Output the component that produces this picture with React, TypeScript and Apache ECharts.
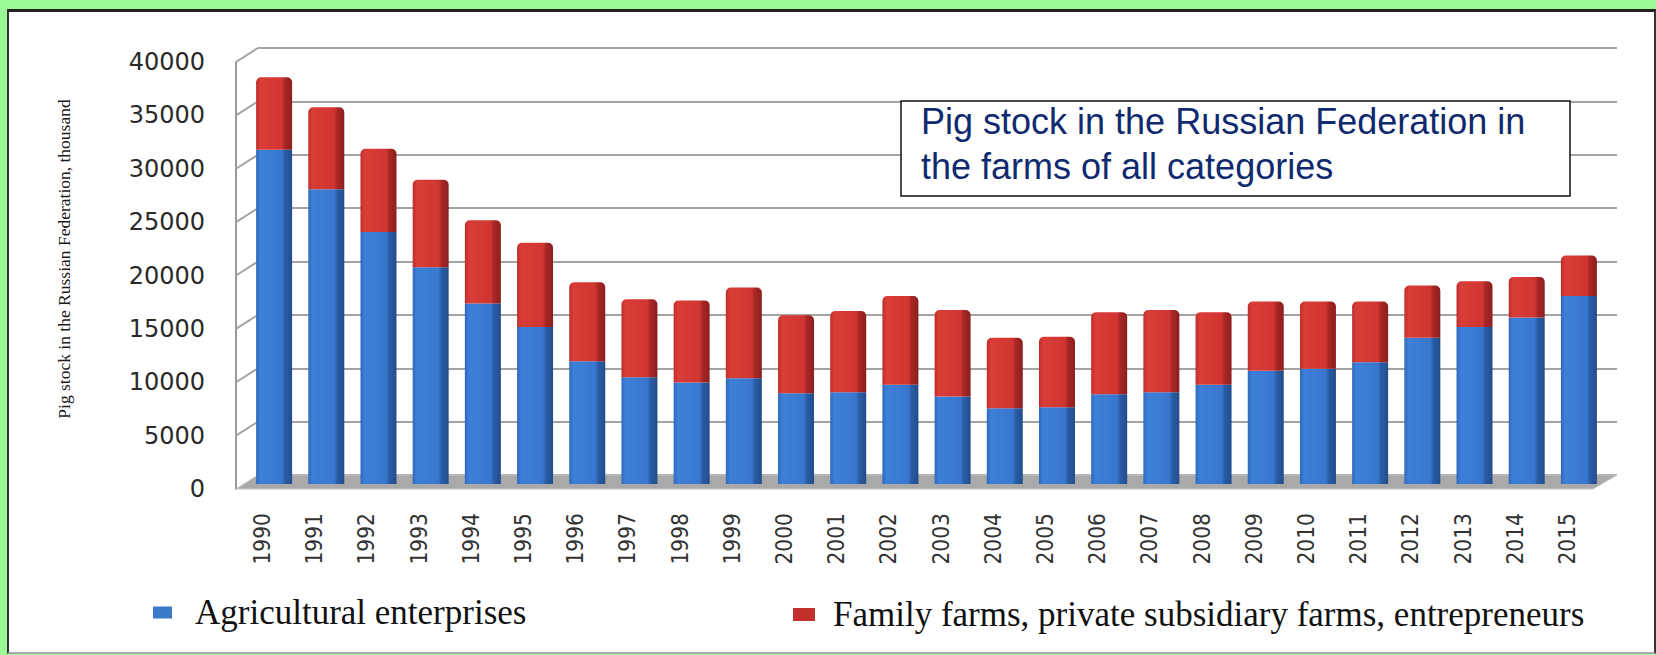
import React, { useEffect, useRef } from "react";
import * as echarts from "echarts";

// ---- data (thousand head) ----
const years = [
  "1990", "1991", "1992", "1993", "1994", "1995", "1996", "1997", "1998", "1999",
  "2000", "2001", "2002", "2003", "2004", "2005", "2006", "2007", "2008", "2009",
  "2010", "2011", "2012", "2013", "2014", "2015",
];
const agricultural = [
  31300, 27600, 23600, 20300, 16900, 14700, 11500, 10000, 9500, 9900,
  8500, 8600, 9300, 8200, 7100, 7200, 8400, 8600, 9300, 10600,
  10800, 11400, 13700, 14700, 15600, 17600,
];
const family = [
  6800, 7700, 7800, 8200, 7800, 7900, 7400, 7300, 7700, 8500,
  7300, 7600, 8300, 8100, 6600, 6600, 7700, 7700, 6800, 6500,
  6300, 5700, 4900, 4300, 3800, 3800,
];
const seriesNames = [
  "Agricultural enterprises",
  "Family farms, private subsidiary farms, entrepreneurs",
];
const yAxisTitle = "Pig stock in the Russian Federation, thousand";
const titleLines = ["Pig stock in the Russian Federation in", "the farms of all categories"];
const yMax = 40000;
const yStep = 5000;

export default function App() {
  const ref = useRef<HTMLDivElement>(null);

  useEffect(() => {
    const chart = echarts.init(ref.current!, null, { renderer: "svg" });
    const G0 = { left: 236, top: 62, width: 1357, height: 427 }; // front
    const G1 = { left: 248, top: 57, width: 1357, height: 427 }; // bars (mid depth)
    const G2 = { left: 258, top: 48, width: 1359, height: 427 }; // back wall

    const blueGrad = new echarts.graphic.LinearGradient(0, 0, 1, 0, [
      { offset: 0, color: "#2f69bb" },
      { offset: 0.12, color: "#3d80d8" },
      { offset: 0.72, color: "#3877cf" },
      { offset: 0.8, color: "#2a5da6" },
      { offset: 1, color: "#224d8c" },
    ]);
    const redGrad = new echarts.graphic.LinearGradient(0, 0, 1, 0, [
      { offset: 0, color: "#bf2e2a" },
      { offset: 0.12, color: "#d93d37" },
      { offset: 0.72, color: "#d03531" },
      { offset: 0.8, color: "#a92725" },
      { offset: 1, color: "#8c1f1e" },
    ]);

    const serif = "'Liberation Serif', 'Times New Roman', serif";

    chart.setOption({
      animation: false,
      backgroundColor: "transparent",
      grid: [
        { ...G0, containLabel: false },
        { ...G1, containLabel: false },
        { ...G2, containLabel: false },
      ],
      xAxis: [
        {
          gridIndex: 0,
          type: "category",
          data: years,
          axisLine: { show: false },
          axisTick: { show: false },
          axisLabel: {
            interval: 0,
            rotate: 90,
            margin: 24,
            fontFamily: "'DejaVu Sans Condensed', 'DejaVu Sans', sans-serif",
            fontSize: 22.5,
            color: "#333",
          },
        },
        { gridIndex: 1, type: "category", data: years, show: false },
        { gridIndex: 2, type: "category", data: years, show: false },
      ],
      yAxis: [
        {
          gridIndex: 0,
          type: "value",
          min: 0,
          max: yMax,
          interval: yStep,
          axisLine: { show: true, lineStyle: { color: "#9a9a9a", width: 2 } },
          axisTick: { show: false },
          splitLine: { show: false },
          axisLabel: {
            margin: 31,
            fontFamily: "'DejaVu Sans', Verdana, sans-serif",
            fontSize: 24,
            color: "#2a2a2a",
            formatter: (v: number) => String(v),
          },
        },
        { gridIndex: 1, type: "value", min: 0, max: yMax, interval: yStep, show: false },
        {
          gridIndex: 2,
          type: "value",
          min: 0,
          max: yMax,
          interval: yStep,
          axisLine: { show: false },
          axisTick: { show: false },
          axisLabel: { show: false },
          splitLine: { show: true, lineStyle: { color: "#a3a3a3", width: 2 } },
        },
      ],
      legend: [
        {
          data: [{ name: seriesNames[0], itemStyle: { color: "#3a78c9" } }],
          left: 153,
          top: 595,
          padding: 0,
          itemWidth: 19,
          itemHeight: 12,
          icon: "rect",
          selectedMode: false,
          textStyle: { fontFamily: serif, fontSize: 35, color: "#111", padding: [0, 0, 0, 18] },
        },
        {
          data: [{ name: seriesNames[1], itemStyle: { color: "#c3302c" } }],
          left: 793,
          top: 597,
          padding: 0,
          itemWidth: 22,
          itemHeight: 13,
          icon: "rect",
          selectedMode: false,
          textStyle: { fontFamily: serif, fontSize: 35, color: "#111", padding: [0, 0, 0, 13] },
        },
      ],
      series: [
        {
          name: seriesNames[0],
          type: "bar",
          xAxisIndex: 1,
          yAxisIndex: 1,
          stack: "total",
          barWidth: 36,
          data: agricultural,
          itemStyle: { color: blueGrad },
          z: 3,
        },
        {
          name: seriesNames[1],
          type: "bar",
          xAxisIndex: 1,
          yAxisIndex: 1,
          stack: "total",
          barWidth: 36,
          data: family,
          itemStyle: { color: redGrad, borderRadius: [5, 5, 0, 0] },
          z: 3,
        },
      ],
    });

    // decorative 3D side wall / floor, computed from the axes
    const ticks: number[] = [];
    for (let v = 0; v <= yMax; v += yStep) ticks.push(v);
    const yf = (v: number) => chart.convertToPixel({ yAxisIndex: 0 }, v) as number;
    const yb = (v: number) => chart.convertToPixel({ yAxisIndex: 2 }, v) as number;

    const diagonals = ticks.slice(1).map((v) => ({
      type: "line",
      z: 1,
      shape: { x1: G0.left, y1: yf(v), x2: G2.left, y2: yb(v) },
      style: { stroke: "#a3a3a3", lineWidth: 2 },
    }));

    const floor = {
      type: "polygon",
      z: 1,
      shape: {
        points: [
          [G0.left, yf(0)],
          [G0.left + G0.width, yf(0)],
          [G2.left + G2.width, yb(0)],
          [G2.left, yb(0)],
        ],
      },
      style: { fill: "#a9a9a9", stroke: "#c4c4c4", lineWidth: 1 },
    };

    chart.setOption({
      graphic: [
        ...diagonals,
        floor,
        {
          type: "text",
          z: 5,
          x: 64,
          y: 259,
          rotation: Math.PI / 2,
          style: {
            text: yAxisTitle,
            fontFamily: serif,
            fontSize: 17.5,
            fill: "#1a1a1a",
            align: "center",
            verticalAlign: "middle",
          },
        },
        {
          type: "rect",
          z: 5,
          shape: { x: 901, y: 101, width: 669, height: 95 },
          style: { fill: "#fff", stroke: "#111", lineWidth: 1.5 },
        },
        {
          type: "text",
          z: 6,
          x: 921,
          y: 121,
          style: {
            text: titleLines[0],
            fontFamily: "'Liberation Sans', Arial, sans-serif",
            fontSize: 36,
            fill: "#0f2a6e",
            align: "left",
            verticalAlign: "middle",
          },
        },
        {
          type: "text",
          z: 6,
          x: 921,
          y: 166,
          style: {
            text: titleLines[1],
            fontFamily: "'Liberation Sans', Arial, sans-serif",
            fontSize: 36,
            fill: "#0f2a6e",
            align: "left",
            verticalAlign: "middle",
          },
        },
      ],
    });

    return () => chart.dispose();
  }, []);

  return (
    <div style={{ position: "fixed", left: 0, top: 0, width: 1656, height: 655, background: "#99fb96" }}>
      <div
        style={{
          position: "absolute",
          left: 7,
          top: 9,
          width: 1649,
          height: 645,
          background: "#fff",
          boxSizing: "border-box",
          borderTop: "3px solid #222",
          borderLeft: "2px solid #333",
          borderRight: "2px solid #333",
          borderBottom: "2px solid #aaa",
        }}
      />
      <div ref={ref} style={{ position: "absolute", left: 0, top: 0, width: 1656, height: 655 }} />
    </div>
  );
}
